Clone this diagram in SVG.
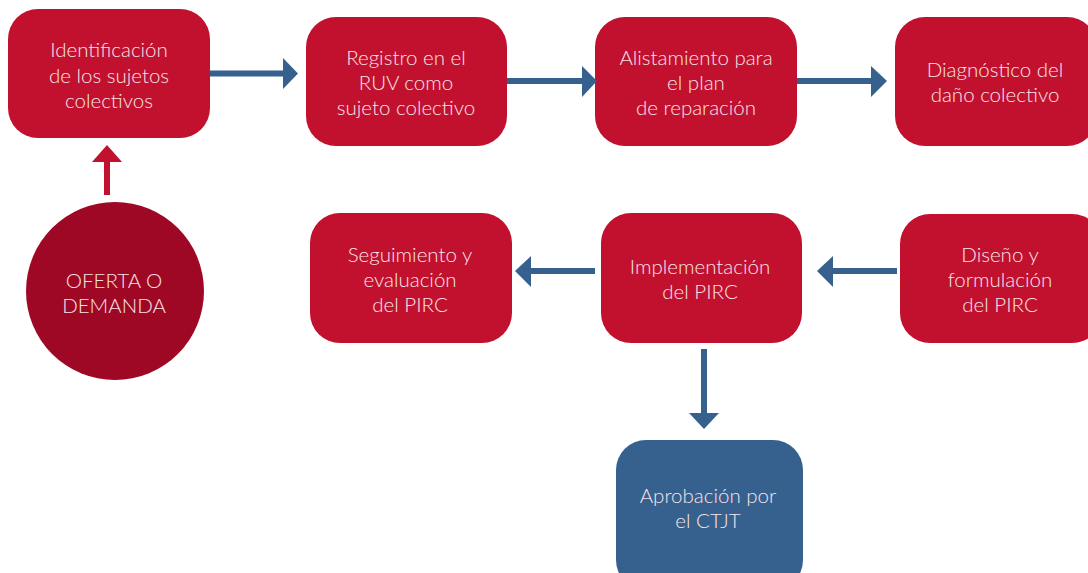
<svg xmlns="http://www.w3.org/2000/svg" width="1088" height="573" viewBox="0 0 1088 573">
<style>
.red{fill:#C1112F}
.blue{fill:#36618F}
.dark{fill:#9E0824}
.t{font-family:Lato,"Open Sans","Liberation Sans",sans-serif;font-weight:300;font-size:20.5px;fill:#F8E4E8;text-anchor:middle}
.bl{fill:#36618F}
.rl{fill:#C1112F}
</style>
<rect width="1088" height="573" fill="#FFFFFF"/>
<g id="n1"><rect class="red" x="8" y="9" width="202" height="129" rx="30"/>
<text class="t" x="109" y="57">Identificación</text><text class="t" x="109" y="83">de los sujetos</text><text class="t" x="109" y="108">colectivos</text></g>
<g id="n2"><rect class="red" x="306" y="17" width="201" height="129" rx="30"/>
<text class="t" x="406" y="65">Registro en el</text><text class="t" x="406" y="90">RUV como</text><text class="t" x="406" y="115">sujeto colectivo</text></g>
<g id="n3"><rect class="red" x="595" y="17" width="202" height="129" rx="30"/>
<text class="t" x="696" y="65">Alistamiento para</text><text class="t" x="696" y="90">el plan</text><text class="t" x="696" y="115">de reparación</text></g>
<g id="n4"><rect class="red" x="895" y="17" width="202" height="129" rx="30"/>
<text class="t" x="995" y="77">Diagnóstico del</text><text class="t" x="995" y="102">daño colectivo</text></g>
<g id="n5"><circle class="dark" cx="115" cy="291" r="89"/>
<text class="t" x="114" y="288">OFERTA O</text><text class="t" x="114" y="313">DEMANDA</text></g>
<g id="n6"><rect class="red" x="310" y="213" width="202" height="130" rx="30"/>
<text class="t" x="410" y="262">Seguimiento y</text><text class="t" x="410" y="287">evaluación</text><text class="t" x="410" y="312">del PIRC</text></g>
<g id="n7"><rect class="red" x="601" y="213" width="201" height="130" rx="30"/>
<text class="t" x="700" y="274">Implementación</text><text class="t" x="700" y="299">del PIRC</text></g>
<g id="n8"><rect class="red" x="900" y="214" width="202" height="129" rx="30"/>
<text class="t" x="1000" y="262">Diseño y</text><text class="t" x="1000" y="287">formulación</text><text class="t" x="1000" y="312">del PIRC</text></g>
<g id="n9"><rect class="blue" x="616" y="440" width="187" height="150" rx="30"/>
<text class="t" x="708" y="503">Aprobación por</text><text class="t" x="708" y="528">el CTJT</text></g>
<g id="connectors">
<rect class="bl" x="210" y="70.5" width="74" height="6"/><polygon class="bl" points="283,58 298,73.5 283,89"/>
<rect class="bl" x="507" y="78" width="76" height="6"/><polygon class="bl" points="582,66 597,81 582,97"/>
<rect class="bl" x="797" y="78" width="75" height="6"/><polygon class="bl" points="871,66 887,81 871,97"/>
<rect class="rl" x="104" y="161" width="6" height="34"/><polygon class="rl" points="92,162 107,145 122,162"/>
<rect class="bl" x="530" y="268" width="65" height="6"/><polygon class="bl" points="531,256 515,271 531,287"/>
<rect class="bl" x="832" y="268" width="65" height="6"/><polygon class="bl" points="833,256 817,271 833,287"/>
<rect class="bl" x="701" y="349" width="6" height="65"/><polygon class="bl" points="689,413 719,413 704,429"/>
</g>
</svg>
